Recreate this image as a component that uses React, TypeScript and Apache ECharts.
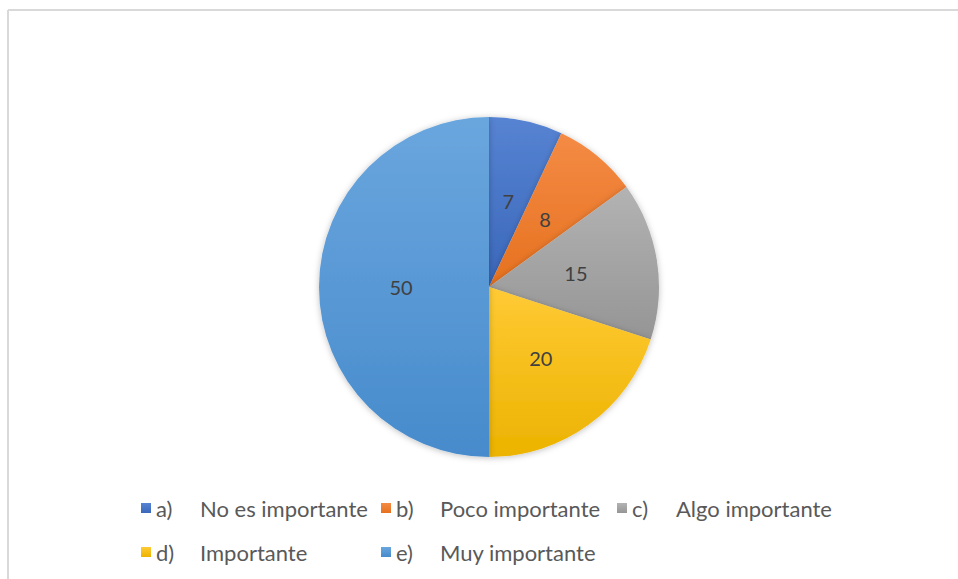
import React, { useEffect, useRef } from "react";
import * as echarts from "echarts";

const prefixes = ["a)", "b)", "c)", "d)", "e)"];
const categories = ["No es importante", "Poco importante", "Algo importante", "Importante", "Muy importante"];
const values = [7, 8, 15, 20, 50];
const gradTop = ["#5683d2", "#f48b45", "#b3b3b3", "#ffca35", "#6aa6de"];
const gradBottom = ["#3b67ba", "#e6711f", "#959595", "#ecb300", "#478bcc"];
const legendPos = [
  { left: 141, top: 497 },
  { left: 381, top: 497 },
  { left: 617, top: 497 },
  { left: 141, top: 541 },
  { left: 381, top: 541 },
];

export default function App() {
  const ref = useRef<HTMLDivElement>(null);
  useEffect(() => {
    if (!ref.current) return;
    const chart = echarts.init(ref.current, undefined, { renderer: "svg" });
    const names = categories.map((c, i) => prefixes[i] + " " + c);
    const data = values.map((v, i) => ({
      name: names[i],
      value: v,
      itemStyle: {
        color: new echarts.graphic.LinearGradient(0, 0, 0, 1, [
          { offset: 0, color: gradTop[i] },
          { offset: 1, color: gradBottom[i] },
        ]),
      },
    }));
    const font = "Lato, 'Open Sans', sans-serif";
    const fs = 22;
    chart.setOption({
      animation: false,
      backgroundColor: "#ffffff",
      graphic: [
        { type: "line", shape: { x1: 8, y1: 10, x2: 958, y2: 10 }, style: { stroke: "#d9d9d9", lineWidth: 2 } },
        { type: "line", shape: { x1: 8, y1: 10, x2: 8, y2: 579 }, style: { stroke: "#d9d9d9", lineWidth: 2 } },
      ],
      legend: legendPos.map((p, i) => ({
        left: p.left,
        top: p.top,
        data: [names[i]],
        icon: "rect",
        itemWidth: 10,
        itemHeight: 10,
        itemGap: 0,
        padding: 0,
        selectedMode: false,
        formatter: () => `{p|${prefixes[i]}}{t|${categories[i]}}`,
        textStyle: {
          fontFamily: font,
          fontSize: fs,
          color: "#595959",
          lineHeight: 22,
          rich: {
            p: { width: 44, fontFamily: font, fontSize: fs, color: "#595959", lineHeight: 22 },
            t: { fontFamily: font, fontSize: fs, color: "#595959", lineHeight: 22 },
          },
        },
      })),
      series: [
        {
          type: "pie",
          center: [489, 287],
          radius: [0, 170],
          startAngle: 90,
          clockwise: true,
          data,
          label: {
            show: true,
            position: "inside",
            formatter: "{c}",
            fontFamily: font,
            fontSize: 20,
            color: "#404040",
          },
          labelLine: { show: false },
          itemStyle: {
            borderWidth: 0,
            shadowBlur: 6,
            shadowColor: "rgba(0,0,0,0.25)",
            shadowOffsetY: 1,
          },
          emphasis: { disabled: true },
        },
      ],
    });
    return () => chart.dispose();
  }, []);
  return (
    <div
      ref={ref}
      style={{ position: "fixed", left: 0, top: 0, width: 958, height: 579 }}
    />
  );
}
